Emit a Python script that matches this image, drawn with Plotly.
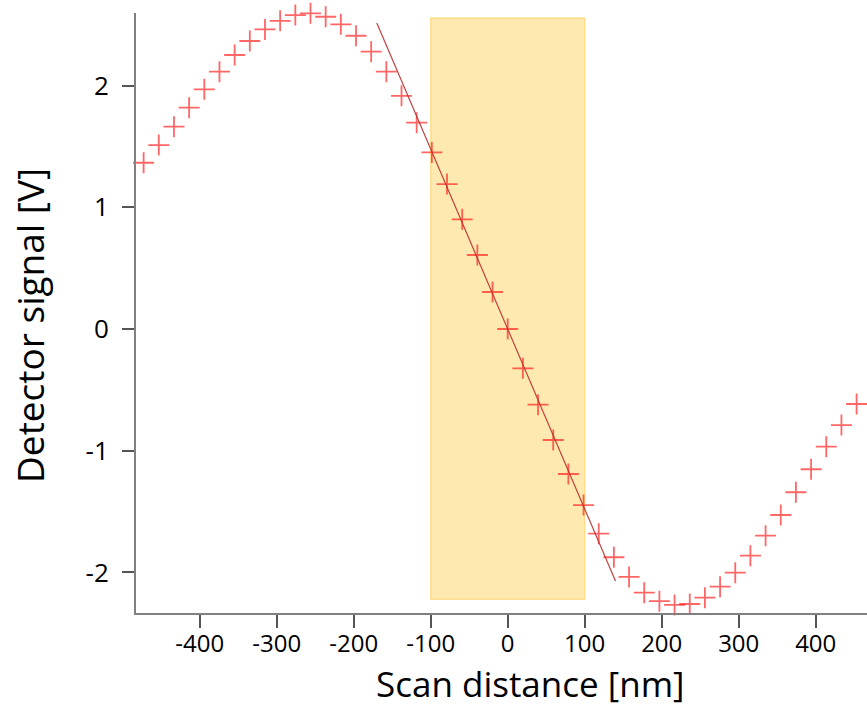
import plotly.graph_objects as go

# Scan positions [nm]
scan_nm = [-472.8, -453.1, -433.4, -413.7, -394.0, -374.3, -354.6, -334.9, -315.2, -295.5,
           -275.8, -256.1, -236.4, -216.7, -197.0, -177.3, -157.6, -137.9, -118.2, -98.5,
           -78.8, -59.1, -39.4, -19.7, 0.0, 19.7, 39.4, 59.1, 78.8, 98.5,
           118.2, 137.9, 157.6, 177.3, 197.0, 216.7, 236.4, 256.1, 275.8, 295.5,
           315.2, 334.9, 354.6, 374.3, 394.0, 413.7, 433.4, 453.1, 472.8]
# Detector signal [V]
signal_v = [1.366, 1.511, 1.662, 1.818, 1.969, 2.114, 2.251, 2.366, 2.461, 2.532,
            2.579, 2.593, 2.565, 2.503, 2.409, 2.278, 2.114, 1.916, 1.695, 1.451,
            1.191, 0.901, 0.608, 0.304, 0.0, -0.323, -0.622, -0.912, -1.191, -1.446,
            -1.681, -1.875, -2.037, -2.166, -2.236, -2.267, -2.259, -2.207, -2.117, -2.002,
            -1.862, -1.698, -1.528, -1.341, -1.152, -0.967, -0.789, -0.616, -0.452]

# Linear fit line endpoints
fit_x = [-170.0, 140.0]
fit_y = [2.513, -2.07]

# Highlighted linear region
band_x = [-100, 100]
band_y = [-2.22, 2.555]

x_ticks = [-400, -300, -200, -100, 0, 100, 200, 300, 400]
y_ticks = [-2, -1, 0, 1, 2]

x_title = "Scan distance [nm]"
y_title = "Detector signal [V]"

fig = go.Figure()

fig.add_shape(type="rect", x0=band_x[0], x1=band_x[1], y0=band_y[0], y1=band_y[1],
              xref="x", yref="y", layer="below",
              fillcolor="rgba(253,206,80,0.45)", line=dict(color="rgba(253,206,80,0.55)", width=1.5))

fig.add_trace(go.Scatter(
    x=scan_nm, y=signal_v, mode="markers", cliponaxis=False,
    marker=dict(symbol="cross-thin-open", size=15, color="rgba(255,20,20,0.65)",
                line=dict(color="rgba(255,20,20,0.65)", width=1.8)),
    showlegend=False))

fig.add_trace(go.Scatter(
    x=fit_x, y=fit_y, mode="lines",
    line=dict(color="rgba(185,45,45,0.9)", width=1.2),
    showlegend=False))

fig.update_layout(
    width=867, height=708,
    margin=dict(l=136, r=0, t=13, b=95),
    plot_bgcolor="white", paper_bgcolor="white",
    font=dict(family="Open Sans", color="black"),
)

fig.add_annotation(text=x_title, xref="paper", yref="paper", x=0.539, y=-0.1183,
                   xanchor="center", yanchor="middle", showarrow=False,
                   font=dict(family="Open Sans", size=35, color="black"))
fig.add_annotation(text=y_title, xref="paper", yref="paper", x=-0.1464, y=0.48,
                   xanchor="center", yanchor="middle", showarrow=False, textangle=-90,
                   font=dict(family="Open Sans", size=37, color="black"))

fig.update_xaxes(
    range=[-482.7, 466.6], tickvals=x_ticks, ticktext=[str(v) for v in x_ticks],
    showgrid=False, zeroline=False, showline=True, linecolor="#808080", linewidth=2,
    ticks="outside", ticklen=13, tickwidth=1.5, tickcolor="#555555",
    tickfont=dict(family="Open Sans", size=24), ticklabelstandoff=-5,
)
fig.update_yaxes(
    range=[-2.333, 2.596], tickvals=y_ticks, ticktext=[str(v) for v in y_ticks],
    showgrid=False, zeroline=False, showline=True, linecolor="#808080", linewidth=2,
    ticks="outside", ticklen=12, tickwidth=1.5, tickcolor="#555555",
    tickfont=dict(family="Open Sans", size=26), ticklabelstandoff=8,
)

fig.write_html("out.html")
